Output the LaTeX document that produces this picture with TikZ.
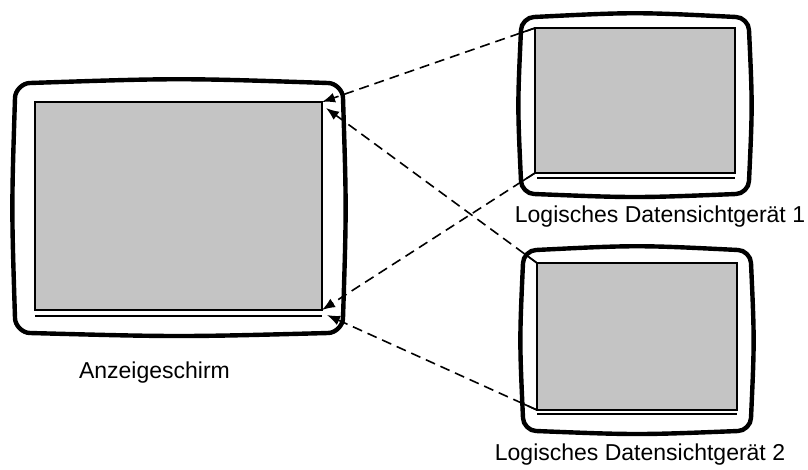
\documentclass[tikz,border=0pt]{standalone}
\usepackage{fontspec}
\setmainfont{Liberation Sans}
\usetikzlibrary{arrows.meta,calc}
\newcommand\tvframe[5]{%
\draw[frame] ({#1+#5},#2) .. controls ({(#1+#3)/2},{#2-5}) .. ({#3-#5},#2)
 .. controls ({#3-0.5*#5},#2) and (#3,{#2+0.5*#5}) .. (#3,{#2+#5})
 .. controls ({#3+3.5},{(#2+#4)/2}) .. (#3,{#4-#5})
 .. controls (#3,{#4-0.5*#5}) and ({#3-0.5*#5},#4) .. ({#3-#5},#4)
 .. controls ({(#1+#3)/2},{#4+4}) .. ({#1+#5},#4)
 .. controls ({#1+0.5*#5},#4) and (#1,{#4-0.5*#5}) .. (#1,{#4-#5})
 .. controls ({#1-3.5},{(#2+#4)/2}) .. (#1,{#2+#5})
 .. controls (#1,{#2+0.5*#5}) and ({#1+0.5*#5},#2) .. cycle;}
\begin{document}
\begin{tikzpicture}[x=1pt,y=-1pt,
  frame/.style={line width=4.4pt,line join=round},
  screen/.style={draw,line width=2pt,fill=black!23,inner sep=0pt,outer sep=0pt},
  baseline2/.style={line width=1.6pt},
  conn/.style={dash pattern=on 10pt off 6pt,line width=1.6pt,-{Latex[length=13pt,width=10pt]}},
  bevel/.style={line width=1.6pt},
  label/.style={font=\fontsize{23}{27}\selectfont,anchor=base,inner sep=0pt}]
\useasboundingbox (0,0) rectangle (808,469);
% big monitor
\tvframe{15}{83}{343}{333}{15}
\node[screen,minimum width=287pt,minimum height=208pt] (big) at (178.5,206) {};
\draw[baseline2] (35,316) -- (322,316);
% top monitor
\tvframe{521}{17}{749}{194}{13}
\node[screen,minimum width=200pt,minimum height=145pt] (top) at (635,100.5) {};
\draw[baseline2] (537,178) -- (735,178);
% bottom monitor
\tvframe{523}{250}{751}{431}{13}
\node[screen,minimum width=200pt,minimum height=147pt] (bot) at (637,336.5) {};
\draw[baseline2] (537,414) -- (737,414);
% labels
\node[label] (lbig) at (154.5,378) {Anzeigeschirm};
\node[label] (ltop) at (660,222) {Logisches Datensichtgerät 1};
\node[label] (lbot) at (640,460) {Logisches Datensichtgerät 2};
% connectors
\coordinate (t1) at ([shift={(4,6)}]big.north east);
\coordinate (t2) at ([shift={(5,5)}]big.south east);
\draw[conn] (top.north west) -- (big.north east);
\draw[conn] (top.south west) -- (big.south east);
\draw[conn] (bot.north west) -- (t1);
\draw[conn] (bot.south west) -- (t2);
\draw[bevel] (top.north west) -- ($(top.north west)!16pt!(big.north east)$);
\draw[bevel] (top.south west) -- ($(top.south west)!16pt!(big.south east)$);
\draw[bevel] (bot.north west) -- ($(bot.north west)!16pt!(t1)$);
\draw[bevel] (bot.south west) -- ($(bot.south west)!16pt!(t2)$);
\end{tikzpicture}
\end{document}
